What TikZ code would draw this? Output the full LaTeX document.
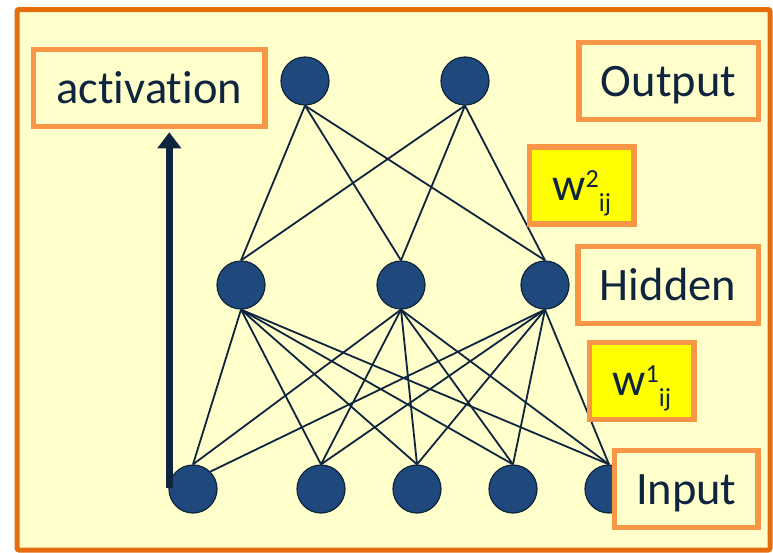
\documentclass[tikz,border=0pt]{standalone}
\usepackage{fontspec}
\setmainfont{Carlito}[Ligatures={TeX,NoCommon}]
\usetikzlibrary{arrows.meta,calc}
\definecolor{frameor}{HTML}{E46C0A}
\definecolor{boxor}{HTML}{F79646}
\definecolor{bgyel}{HTML}{FFFFCC}
\definecolor{wyel}{HTML}{FFFF00}
\definecolor{navy}{HTML}{0F243E}
\definecolor{neuron}{HTML}{1F497D}
\newcommand{\wlabel}[1]{w\raisebox{13pt}{\fontsize{26}{26}\selectfont #1}\raisebox{-11pt}{\fontsize{26}{26}\selectfont ij}}
\begin{document}
\begin{tikzpicture}[x=1pt,y=-1pt,
  neuronnode/.style={circle,fill=neuron,draw=navy,line width=1.2pt,minimum size=48pt,inner sep=0pt},
  conn/.style={draw=navy,line width=1.8pt},
  labelbox/.style={rectangle,draw=boxor,line width=5.5pt,fill=bgyel,minimum height=77pt,text=navy,
    font=\fontsize{46.5}{50}\selectfont,text height=30pt,text depth=0pt,inner sep=0pt},
  weightbox/.style={labelbox,fill=wyel,minimum width=104.5pt}]
\useasboundingbox (0,0) rectangle (773,552);
\draw[frameor, line width=5pt, fill=bgyel, rounded corners=2pt] (17,9.5) rectangle (770,550);
% neurons
\node[neuronnode] (o1) at (305,81) {};
\node[neuronnode] (o2) at (465,81) {};
\node[neuronnode] (h1) at (241,285) {};
\node[neuronnode] (h2) at (401,285) {};
\node[neuronnode] (h3) at (545,285) {};
\node[neuronnode] (i1) at (193,489) {};
\node[neuronnode] (i2) at (321,489) {};
\node[neuronnode] (i3) at (417,489) {};
\node[neuronnode] (i4) at (513,489) {};
\node[neuronnode] (i5) at (609,489) {};
% connections output-hidden
\foreach \o in {o1,o2}{
  \foreach \h in {h1,h2,h3}{
    \draw[conn] (\o.south) -- (\h.north);
  }
}
% connections hidden-input
\foreach \h in {h1,h2}{
  \foreach \i in {i1,i2,i3,i4,i5}{
    \draw[conn] (\h.south) -- (\i.north);
  }
}
\draw[conn] (h3.south) -- (i1.45);
\foreach \i in {i2,i3,i4,i5}{
  \draw[conn] (h3.south) -- (\i.north);
}
% label boxes
\node[labelbox, minimum width=231.5pt] (act) at (149.25,88) {activation};
\node[labelbox, minimum width=179.5pt] (outl) at (668.5,81) {Output};
\node[weightbox] (w2) at (581.7,185.3) {\wlabel{2}};
\node[labelbox, minimum width=180.5pt] (hidl) at (668,285) {Hidden};
\node[weightbox] (w1) at (641.7,380.8) {\wlabel{1}};
\node[labelbox, minimum width=143.8pt] (inl) at (686.3,489.2) {Input};
% activation arrow
\coordinate (abot) at (169.3,488);
\draw[navy, line width=7pt, -{Triangle[width=23pt,length=16pt]}, shorten >=3pt] (abot) -- (abot |- act.south);
\end{tikzpicture}
\end{document}
